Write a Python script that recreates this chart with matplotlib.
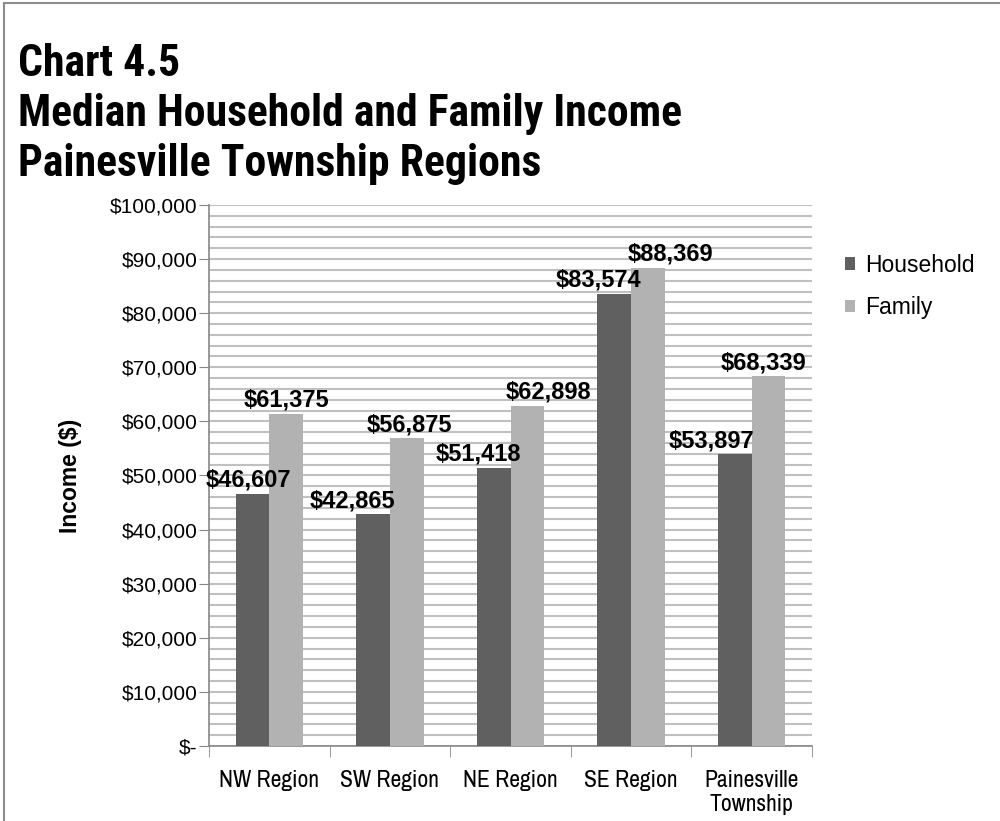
import matplotlib
matplotlib.use("Agg")
import matplotlib.pyplot as plt
from matplotlib import font_manager
from matplotlib.ticker import MultipleLocator, FuncFormatter
from matplotlib.lines import Line2D
import numpy as np

regions = ["NW Region", "SW Region", "NE Region", "SE Region", "Painesville\nTownship"]
household = [46607, 42865, 51418, 83574, 53897]
family = [61375, 56875, 62898, 88369, 68339]
series_names = ["Household", "Family"]
title_lines = ["Chart 4.5", "Median Household and Family Income", "Painesville Township Regions"]

# label nudges (pixels) so neighbouring labels don't collide
household_dx = [-4, -21, -15, -16, -23]
family_dx = [0, 3, 21, 22, -5]

narrow_candidates = ["Liberation Sans Narrow", "Arial Narrow", "Archivo Narrow",
                     "Roboto Condensed", "PT Sans Narrow", "Fira Sans Condensed",
                     "IBM Plex Sans Condensed", "Encode Sans Condensed", "Asap Condensed"]
fonts = font_manager.fontManager.ttflist
names = {f.name for f in fonts}
bold_names = {f.name for f in fonts if isinstance(f.weight, int) and f.weight >= 700
              or f.weight == "bold"}
narrow = next((n for n in narrow_candidates if n in names), "Liberation Sans")
narrow_bold = next((n for n in narrow_candidates if n in bold_names), "Liberation Sans")
regular = "Liberation Sans"

fig = plt.figure(figsize=(10, 8.21), dpi=100)
ax = fig.add_axes([0.209, 0.0914, 0.603, 0.6589])

x = np.arange(len(regions))
w = 0.28
b1 = ax.bar(x - w / 2, household, w, color="#606060", label=series_names[0], zorder=3)
b2 = ax.bar(x + w / 2, family, w, color="#b2b2b2", label=series_names[1], zorder=3)

for bars, vals, dxs in [(b1, household, household_dx), (b2, family, family_dx)]:
    for bar, v, dx in zip(bars, vals, dxs):
        ax.annotate(f"${v:,}", (bar.get_x() + bar.get_width() / 2, v),
                    xytext=(dx, 2), textcoords="offset pixels",
                    ha="center", va="bottom", fontsize=17, fontweight="bold",
                    family=regular, zorder=5)

ax.set_xlim(-0.5, len(regions) - 0.5)
ax.set_ylim(0, 100000)

ax.yaxis.set_major_locator(MultipleLocator(10000))
ax.yaxis.set_minor_locator(MultipleLocator(2000))
ax.yaxis.set_major_formatter(FuncFormatter(lambda v, p: "$-" if v == 0 else f"${v:,.0f}"))
ax.grid(axis="y", which="both", color="#c0c0c0", linewidth=1.5, zorder=0)
ax.tick_params(axis="y", which="major", length=7, color="#888888", labelsize=15, pad=1.5)
ax.tick_params(axis="y", which="minor", length=0)
for lab in ax.get_yticklabels():
    lab.set_family(regular)

ax.set_xticks(x)
ax.set_xticklabels(regions, family=narrow, fontsize=17)
ax.set_xticks(np.arange(len(regions) + 1) - 0.5, minor=True)
ax.tick_params(axis="x", which="major", length=0, pad=17)
ax.tick_params(axis="x", which="minor", length=8, color="#888888")

for side in ["top", "right"]:
    ax.spines[side].set_visible(False)
for side in ["left", "bottom"]:
    ax.spines[side].set_color("#888888")
    ax.spines[side].set_linewidth(1.2)

ax.set_ylabel("Income ($)", fontsize=16.5, fontweight="bold", family=regular, labelpad=20)

fig.legend(handles=[b1, b2], loc="upper left", bbox_to_anchor=(0.824, 0.716),
           frameon=False, prop={"family": regular, "size": 16.5},
           handlelength=0.45, handleheight=0.45, handletextpad=0.45, labelspacing=0.85)

for i, line in enumerate(title_lines):
    fig.text(0.018, 0.922 - i * 0.0609, line, ha="left", va="center",
             fontsize=31.5, fontweight="bold", family=narrow_bold)

# outer frame lines
fig.add_artist(Line2D([0.004, 1.0], [0.996, 0.996], color="#8c8c8c", linewidth=1.5))
fig.add_artist(Line2D([0.004, 0.004], [0.0, 0.996], color="#8c8c8c", linewidth=1.5))

fig.savefig("out.png", dpi=100)
